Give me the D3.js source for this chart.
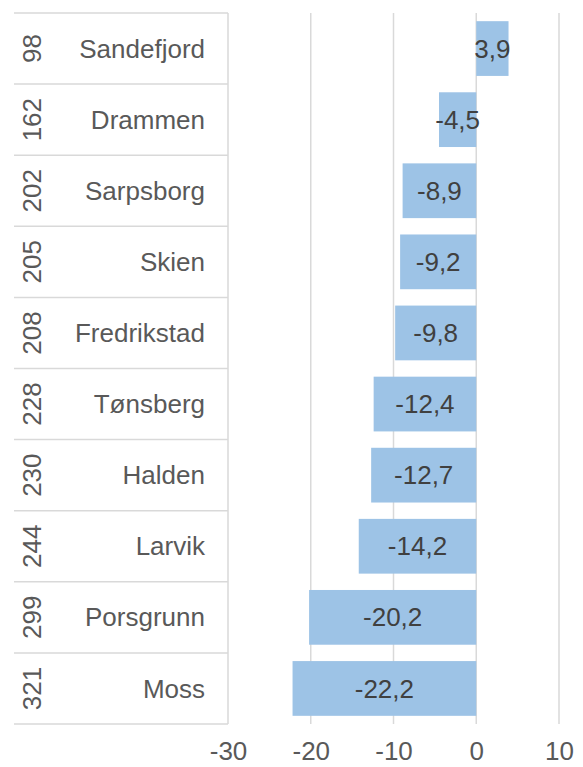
<!DOCTYPE html>
<html>
<head>
<meta charset="utf-8">
<script src="https://cdn.jsdelivr.net/npm/d3@7"></script>
<style>
  body { margin: 0; background: #fff; }
  svg text { font-family: "Liberation Sans", Arial, sans-serif; }
</style>
</head>
<body>
<div id="main"></div>
<script>
// data
const towns = ['Sandefjord', 'Drammen', 'Sarpsborg', 'Skien', 'Fredrikstad', 'Tønsberg', 'Halden', 'Larvik', 'Porsgrunn', 'Moss'];
const ranks = [98, 162, 202, 205, 208, 228, 230, 244, 299, 321];
const values = [3.9, -4.5, -8.9, -9.2, -9.8, -12.4, -12.7, -14.2, -20.2, -22.2];
const ticks = [-30, -20, -10, 0, 10];

// SVG
const w = 583;
const h = 767;
const plotTop = 13;
const plotBottom = 724;
const plotLeft = 228;
const plotRight = 559;
const tableLeft = 14;

const barColor = '#9dc3e6';
const gridColor = '#d9d9d9';
const fontSize = '26px';

const svg = d3.select('#main')
    .append('svg')
    .attr('width', w)
    .attr('height', h)

const x = d3.scaleLinear()
    .domain([-30, 10])
    .range([plotLeft, plotRight])

const y = d3.scaleBand()
    .domain(towns)
    .range([plotTop, plotBottom])
    .paddingInner(0.23)
    .paddingOuter(0.115)

const rows = d3.scaleBand()
    .domain(towns)
    .range([plotTop, plotBottom])

// gridlines
svg.append('g')
    .selectAll('line')
    .data(ticks)
    .enter()
    .append('line')
    .attr('x1', d => x(d))
    .attr('x2', d => x(d))
    .attr('y1', plotTop)
    .attr('y2', plotBottom)
    .attr('stroke', gridColor)
    .attr('stroke-width', 1.5)

// table row lines
const borders = towns.map(t => rows(t)).concat([plotBottom]);
svg.append('g')
    .selectAll('line')
    .data(borders)
    .enter()
    .append('line')
    .attr('x1', tableLeft)
    .attr('x2', plotLeft)
    .attr('y1', d => d)
    .attr('y2', d => d)
    .attr('stroke', gridColor)
    .attr('stroke-width', 1.5)

// bars
svg.append('g')
    .selectAll('rect')
    .data(values)
    .enter()
    .append('rect')
    .attr('x', d => x(Math.min(0, d)))
    .attr('y', (d, i) => y(towns[i]))
    .attr('width', d => Math.abs(x(d) - x(0)))
    .attr('height', y.bandwidth())
    .attr('fill', barColor)

// value labels
svg.append('g')
    .selectAll('text')
    .data(values)
    .enter()
    .append('text')
    .attr('x', d => (x(d) + x(0)) / 2)
    .attr('y', (d, i) => rows(towns[i]) + rows.bandwidth() / 2)
    .attr('dy', '0.35em')
    .attr('text-anchor', 'middle')
    .attr('fill', '#404040')
    .style('font-size', fontSize)
    .text(d => String(d).replace('.', ','))

// town names
svg.append('g')
    .selectAll('text')
    .data(towns)
    .enter()
    .append('text')
    .attr('x', 205)
    .attr('y', d => rows(d) + rows.bandwidth() / 2)
    .attr('dy', '0.35em')
    .attr('text-anchor', 'end')
    .attr('fill', '#595959')
    .style('font-size', fontSize)
    .text(d => d)

// ranks, rotated
svg.append('g')
    .selectAll('text')
    .data(ranks)
    .enter()
    .append('text')
    .attr('transform', (d, i) => `translate(31.5, ${rows(towns[i]) + rows.bandwidth() / 2}) rotate(-90)`)
    .attr('dy', '0.35em')
    .attr('text-anchor', 'middle')
    .attr('fill', '#595959')
    .style('font-size', fontSize)
    .text(d => d)

// x axis
const xAxis = d3.axisBottom(x)
    .tickValues(ticks)
    .tickSize(0)
    .tickPadding(18)
    .tickFormat(d => String(d))

svg.append('g')
    .attr('transform', `translate(0, ${plotBottom})`)
    .call(xAxis)
    .call(g => g.select('.domain').remove())
    .selectAll('text')
    .attr('fill', '#595959')
    .style('font-size', fontSize)
    .style('font-family', '"Liberation Sans", Arial, sans-serif')
</script>
</body>
</html>
